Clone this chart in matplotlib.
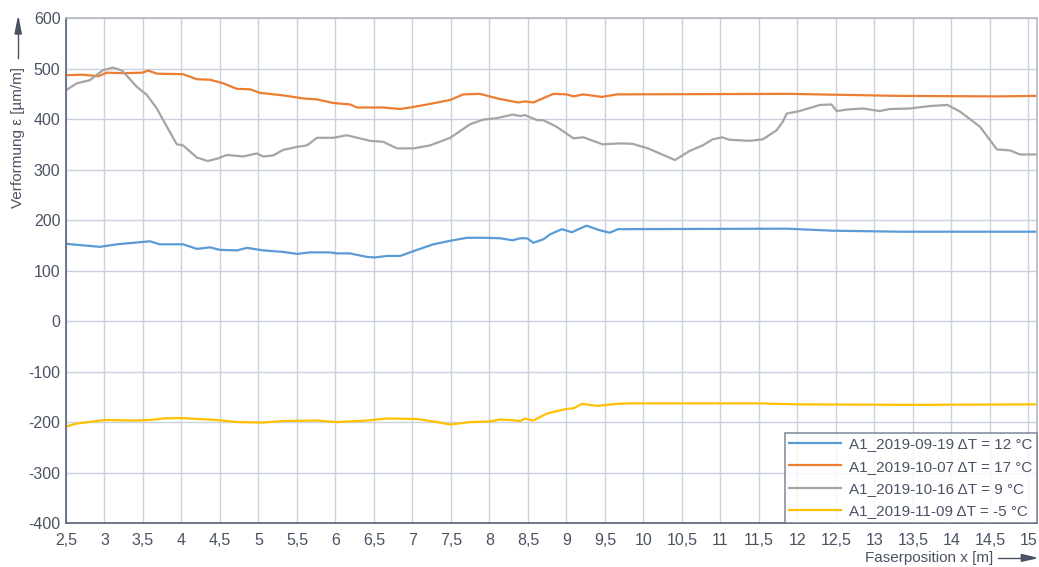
import numpy as np
import matplotlib.pyplot as plt
from matplotlib.ticker import FuncFormatter

plt.rcParams['font.family'] = ['Liberation Sans', 'DejaVu Sans']
plt.rcParams['axes.unicode_minus'] = False

# values
x_blue = [2.5, 2.94, 3.16, 3.59, 3.72, 4.02, 4.2, 4.37, 4.5, 4.72, 4.85, 5.06, 5.32, 5.5, 5.67,
          5.93, 6.02, 6.19, 6.41, 6.51, 6.67, 6.84, 7.06, 7.27, 7.49, 7.71, 7.92, 8.14, 8.3, 8.4,
          8.49, 8.57, 8.7, 8.79, 8.94, 9.07, 9.26, 9.43, 9.56, 9.67, 11.86, 12.45, 13.33, 15.11]
y_blue = [153, 147, 152, 158, 152, 152, 143, 146, 141, 140, 145, 140, 137, 133, 136,
          136, 134, 134, 127, 126, 129, 129, 141, 152, 159, 165, 165, 164, 160, 164,
          164, 155, 162, 172, 182, 176, 189, 180, 175, 182, 183, 179, 177, 177]

x_orange = [2.5, 2.72, 2.92, 3.03, 3.24, 3.49, 3.57, 3.68, 4.02, 4.2, 4.37, 4.54, 4.72, 4.89,
            5.02, 5.32, 5.58, 5.76, 5.97, 6.19, 6.28, 6.62, 6.84, 6.97, 7.19, 7.49, 7.66, 7.88,
            8.1, 8.37, 8.46, 8.57, 8.83, 9.0, 9.09, 9.22, 9.46, 9.66, 11.9, 13.33, 14.6, 15.11]
y_orange = [487, 488, 485, 492, 491, 492, 496, 490, 489, 479, 478, 471, 460, 459,
            452, 447, 441, 439, 432, 429, 423, 423, 420, 423, 429, 438, 449, 450,
            441, 433, 435, 433, 450, 449, 445, 449, 444, 449, 450, 446, 445, 446]

x_gray = [2.5, 2.64, 2.81, 2.98, 3.11, 3.23, 3.33, 3.42, 3.55, 3.68, 3.81, 3.94, 4.02, 4.2,
          4.34, 4.47, 4.59, 4.8, 4.98, 5.06, 5.19, 5.32, 5.5, 5.63, 5.76, 5.97, 6.15, 6.45,
          6.62, 6.8, 7.01, 7.23, 7.49, 7.75, 7.92, 8.1, 8.3, 8.4, 8.46, 8.62, 8.7, 8.87, 9.09,
          9.22, 9.47, 9.6, 9.7, 9.86, 10.06, 10.21, 10.41, 10.6, 10.77, 10.9, 11.02, 11.12,
          11.38, 11.55, 11.73, 11.81, 11.86, 12.03, 12.29, 12.44, 12.51, 12.65, 12.85, 13.07,
          13.2, 13.46, 13.72, 13.95, 14.11, 14.37, 14.59, 14.76, 14.89, 15.11]
y_gray = [457, 471, 477, 497, 502, 496, 479, 464, 448, 421, 385, 350, 348, 324,
          317, 322, 329, 326, 332, 326, 328, 339, 345, 348, 363, 363, 368, 357,
          355, 342, 342, 348, 363, 390, 399, 402, 409, 406, 408, 398, 398, 385, 362,
          364, 350, 351, 352, 351, 342, 332, 319, 337, 348, 360, 364, 359,
          357, 360, 378, 395, 411, 416, 428, 429, 416, 419, 421, 416,
          420, 421, 426, 428, 415, 385, 340, 338, 330, 330]

x_yellow = [2.5, 2.64, 2.85, 3.0, 3.37, 3.59, 3.76, 3.98, 4.46, 4.72, 5.06, 5.32, 5.76, 6.02,
            6.41, 6.67, 7.06, 7.32, 7.49, 7.75, 7.99, 8.14, 8.27, 8.4, 8.46, 8.57, 8.75, 9.0,
            9.09, 9.2, 9.4, 9.66, 9.86, 11.5, 12.0, 13.5, 15.11]
y_yellow = [-209, -203, -199, -196, -197, -196, -193, -192, -196, -200, -201, -198, -197, -200,
            -197, -193, -194, -200, -205, -200, -199, -195, -196, -198, -193, -197, -183, -174,
            -173, -164, -168, -164, -163, -163, -165, -166, -165]

labels = ['A1_2019-09-19 \u0394T = 12 °C', 'A1_2019-10-07 \u0394T = 17 °C',
          'A1_2019-10-16 \u0394T = 9 °C', 'A1_2019-11-09 \u0394T = -5 °C']
colors = ['#5b9bd5', '#ed7d31', '#a5a5a5', '#ffc000']

txt = '#4a5264'
fig = plt.figure(figsize=(10.39, 5.67), dpi=100)
ax = fig.add_axes([0.0635, 0.0776, 0.9345, 0.8904])

for xs, ys, c, lab in zip([x_blue, x_orange, x_gray, x_yellow],
                          [y_blue, y_orange, y_gray, y_yellow], colors, labels):
    ax.plot(xs, ys, color=c, lw=1.6, label=lab)

ax.set_xlim(2.5, 15.11)
ax.set_ylim(-400, 600)
ax.set_xticks(np.arange(2.5, 15.01, 0.5))
ax.set_yticks(np.arange(-400, 601, 100))
ax.xaxis.set_major_formatter(FuncFormatter(lambda v, p: ('%g' % v).replace('.', ',')))
ax.grid(True, color='#c9d1de', lw=1)
ax.set_axisbelow(True)
ax.tick_params(axis='y', length=0, labelsize=11.5, colors=txt, pad=4)
ax.tick_params(axis='x', length=0, labelsize=11.5, colors=txt, pad=7)
for s in ['left', 'bottom']:
    ax.spines[s].set_color('#6b7689')
    ax.spines[s].set_linewidth(1.4)
for s in ['top', 'right']:
    ax.spines[s].set_color('#b4b8c0')
    ax.spines[s].set_linewidth(1.2)

leg = ax.legend(loc='lower right', fontsize=11, frameon=True, fancybox=False,
                borderaxespad=0, handlelength=3.4, handletextpad=0.5,
                labelspacing=0.55, borderpad=0.3)
leg.get_frame().set_edgecolor('#6b7689')
leg.get_frame().set_linewidth(1.2)
for t in leg.get_texts():
    t.set_color(txt)

# axis titles with arrows
fig.text(0.0175, 0.757, 'Verformung ε [µm/m]', rotation=90, ha='center', va='center',
         fontsize=11, color=txt)
fig.add_artist(plt.Line2D([0.0175, 0.0175], [0.898, 0.965], color=txt, lw=1))
fig.patches.append(plt.Polygon([[0.0145, 0.94], [0.0205, 0.94], [0.0175, 0.968]],
                               closed=True, color=txt, transform=fig.transFigure))
fig.text(0.956, 0.016, 'Faserposition x [m]', ha='right', va='center', fontsize=11, color=txt)
fig.add_artist(plt.Line2D([0.961, 0.994], [0.016, 0.016], color=txt, lw=1))
fig.patches.append(plt.Polygon([[0.983, 0.010], [0.983, 0.022], [0.997, 0.016]],
                               closed=True, color=txt, transform=fig.transFigure))

fig.savefig('out.png', dpi=100)
